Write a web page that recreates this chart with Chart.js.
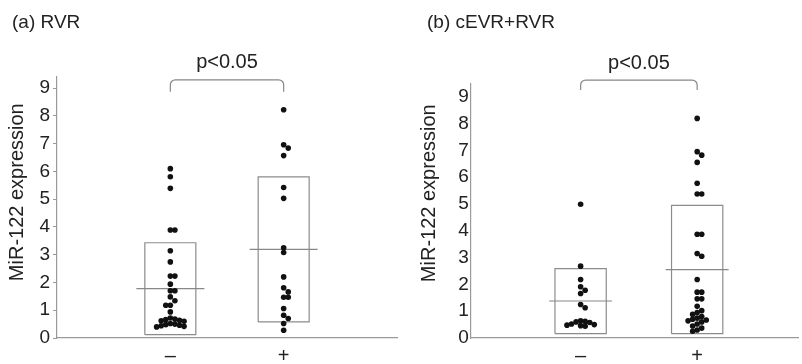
<!DOCTYPE html>
<html>
<head>
<meta charset="utf-8">
<script src="https://cdn.jsdelivr.net/npm/chart.js@4.4.1/dist/chart.umd.min.js"></script>
<style>
body { margin: 0; background: #fff; font-family: "Liberation Sans", Arial, sans-serif; }
#wrap { position: relative; width: 802px; height: 364px; }
.panel { position: absolute; top: 0; width: 401px; height: 364px; }
.ttl { position: absolute; top: 13px; font-size: 19px; line-height: 18px; color: #222; }
</style>
</head>
<body>
<div id="wrap">
  <div class="panel" style="left:0"><canvas id="rvr" width="401" height="364"></canvas></div>
  <div class="panel" style="left:401px"><canvas id="evr" width="401" height="364"></canvas></div>
  <div class="ttl" style="left:12px">(a) RVR</div>
  <div class="ttl" style="left:427px">(b) cEVR+RVR</div>
</div>
<script>
// categories on the x axis
var categories = ['\u2013', '+'];
var yTicks = [0, 1, 2, 3, 4, 5, 6, 7, 8, 9];
var yTitle = 'MiR-122 expression';

// (a) RVR: miR-122 expression for RVR negative / positive
var rvrNeg = [6.10, 5.81, 5.39, 3.89, 3.89, 3.14, 2.74, 2.23, 2.23, 1.94, 1.70, 1.70,
              1.48, 1.34, 1.18, 1.18, 0.94, 0.72, 0.68, 0.66, 0.64, 0.62, 0.60, 0.52,
              0.50, 0.48, 0.46, 0.44, 0.42, 0.40];
var rvrPos = [8.22, 6.96, 6.84, 6.57, 5.42, 5.03, 3.25, 3.08, 2.20, 1.81, 1.66, 1.47,
              1.47, 1.06, 0.82, 0.70, 0.52, 0.28];
var rvrBoxLow = [0.12, 0.58];
var rvrBoxHigh = [3.43, 5.80];
var rvrMean = [1.78, 3.19];
var rvrBracket = [9.30, 8.87];

// (b) cEVR+RVR
var evrNeg = [4.99, 2.68, 2.18, 1.91, 1.78, 1.66, 1.25, 1.13, 0.64, 0.62, 0.60,
              0.58, 0.52, 0.50, 0.48, 0.46, 0.44];
var evrPos = [8.19, 6.95, 6.82, 6.55, 5.77, 5.37, 5.37, 3.87, 3.87, 3.15, 3.05, 2.18,
              1.71, 1.71, 1.46, 1.46, 1.18, 1.02, 0.95, 0.88, 0.80, 0.74, 0.70, 0.67,
              0.64, 0.60, 0.52, 0.45, 0.37, 0.30, 0.25];
var evrBoxLow = [0.16, 0.16];
var evrBoxHigh = [2.59, 4.95];
var evrMean = [1.38, 2.55];
var evrBracket = [9.62, 9.25];

// place dots side by side where they would overlap (simple beeswarm)
function swarm(values, cx, pxX, pxY) {
    var placed = [];
    var d = 4.6;
    return values.map(function (v) {
        for (var k = 0; k < 40; k++) {
            var step = k === 0 ? 0 : (k % 2 ? (k + 1) / 2 : -k / 2);
            var x = cx + step * d / pxX;
            var ok = placed.every(function (p) {
                return Math.hypot((p.x - x) * pxX, (p.y - v) * pxY) >= d - 0.01;
            });
            if (ok) {
                var pt = {x: x, y: v};
                placed.push(pt);
                return pt;
            }
        }
    });
}

function boxPath(cx, w, lo, hi) {
    return [{x: cx - w, y: lo}, {x: cx + w, y: lo}, {x: cx + w, y: hi},
            {x: cx - w, y: hi}, {x: cx - w, y: lo}];
}

// significance bracket + y axis title (placed a bit above the axis middle, as in the figure)
var bracketPlugin = {
    id: 'bracket',
    afterDraw: function (chart, args, opts) {
        var ctx = chart.ctx;
        var xs = chart.scales.x, ys = chart.scales.y;
        var x1 = xs.getPixelForValue(1), x2 = xs.getPixelForValue(2);
        var yt = ys.getPixelForValue(opts.top), ye = ys.getPixelForValue(opts.end);
        var r = 5;
        ctx.save();
        ctx.strokeStyle = '#888';
        ctx.lineWidth = 1.2;
        ctx.beginPath();
        ctx.moveTo(x1, ye);
        ctx.arcTo(x1, yt, x1 + r, yt, r);
        ctx.arcTo(x2, yt, x2, yt + r, r);
        ctx.lineTo(x2, ye);
        ctx.stroke();
        ctx.fillStyle = '#222';
        ctx.font = '20px "Liberation Sans", Arial, sans-serif';
        ctx.textAlign = 'center';
        ctx.textBaseline = 'middle';
        ctx.fillText(opts.label, (x1 + x2) / 2, yt - 17);

        ctx.translate(opts.titleX, ys.getPixelForValue(opts.titleAt));
        ctx.rotate(-Math.PI / 2);
        ctx.fillText(yTitle, 0, 0);
        ctx.restore();
    }
};

function makePanel(id, neg, pos, boxLow, boxHigh, mean, bracket, cfg) {
    var ctx = document.getElementById(id).getContext('2d');
    var groups = [neg, pos];
    var datasets = [];
    groups.forEach(function (vals, i) {
        var cx = i + 1;
        datasets.push({
            data: boxPath(cx, cfg.boxW, boxLow[i], boxHigh[i]),
            showLine: true, borderColor: '#8c8c8c', borderWidth: 1.2,
            pointRadius: 0, fill: false, order: 3
        });
        datasets.push({
            data: [{x: cx - cfg.meanW, y: mean[i]}, {x: cx + cfg.meanW, y: mean[i]}],
            showLine: true, borderColor: '#888', borderWidth: 1.2,
            pointRadius: 0, fill: false, order: 2
        });
        datasets.push({
            data: swarm(vals, cx, cfg.pxX, cfg.pxY),
            pointRadius: 2.8, pointBackgroundColor: '#111', pointBorderWidth: 0,
            order: 1
        });
    });
    return new Chart(ctx, {
        type: 'scatter',
        data: {datasets: datasets},
        plugins: [bracketPlugin],
        options: {
            responsive: false,
            animation: false,
            layout: {padding: {top: cfg.top, right: cfg.right, left: 0, bottom: 0}},
            plugins: {
                legend: {display: false},
                tooltip: {enabled: false},
                bracket: {top: bracket[0], end: bracket[1], label: 'p<0.05',
                          titleX: cfg.titleX, titleAt: cfg.titleAt}
            },
            scales: {
                x: {
                    type: 'linear', min: cfg.xMin, max: cfg.xMax,
                    afterBuildTicks: function (s) { s.ticks = [{value: 1}, {value: 2}]; },
                    afterFit: function (s) { s.height = 26; },
                    ticks: {
                        callback: function (v) { return categories[v - 1]; },
                        font: {size: 20, family: '"Liberation Sans", Arial'},
                        color: '#222', padding: -2, maxRotation: 0
                    },
                    grid: {display: false},
                    border: {color: '#9a9a9a', width: 1.2}
                },
                y: {
                    min: 0, max: cfg.yMax,
                    afterBuildTicks: function (s) {
                        s.ticks = yTicks.map(function (v) { return {value: v}; });
                    },
                    afterFit: function (s) { s.width = cfg.yWidth; },
                    ticks: {
                        font: {size: 19, family: '"Liberation Sans", Arial'},
                        color: '#222', padding: cfg.tickPad
                    },
                    grid: {drawOnChartArea: false, drawTicks: true, tickLength: cfg.tickLen, color: '#9a9a9a'},
                    border: {color: '#9a9a9a', width: 1.2}
                }
            }
        }
    });
}

makePanel('rvr', rvrNeg, rvrPos, rvrBoxLow, rvrBoxHigh, rvrMean, rvrBracket, {
    top: 77, right: 1, xMin: 0, xMax: 3, yMax: 9.4, yWidth: 57,
    pxX: 114, pxY: 27.8, boxW: 0.225, meanW: 0.3,
    tickPad: 3, tickLen: 4, titleX: 17.5, titleAt: 5.25
});
makePanel('evr', evrNeg, evrPos, evrBoxLow, evrBoxHigh, evrMean, evrBracket, {
    top: 83.3, right: 0, xMin: 0.057, xMax: 2.865, yMax: 9.5, yWidth: 69.7,
    pxX: 118, pxY: 26.8, boxW: 0.22, meanW: 0.27,
    tickPad: 2, tickLen: 0, titleX: 28.2, titleAt: 5.4
});
</script>
</body>
</html>
